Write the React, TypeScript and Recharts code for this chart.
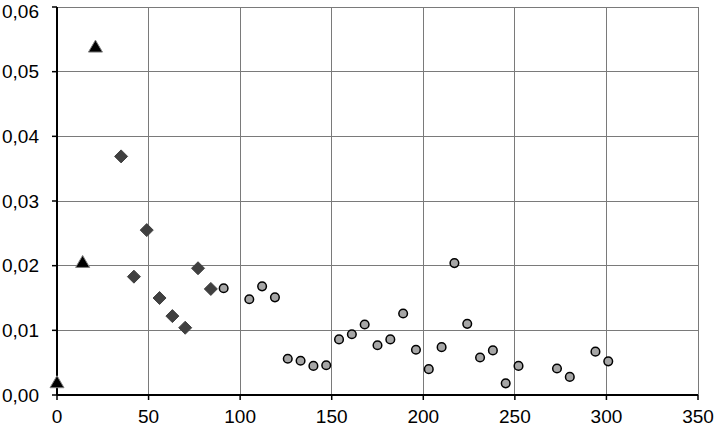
import { ScatterChart, Scatter, XAxis, YAxis, CartesianGrid } from "recharts";

const triangleX = [0, 14, 21];
const triangleY = [0.0019, 0.0205, 0.0538];

const diamondX = [35, 42, 49, 56, 63, 70, 77, 84];
const diamondY = [0.0369, 0.0183, 0.0255, 0.015, 0.0122, 0.0104, 0.0196, 0.0164];

const circleX = [
  91, 105, 112, 119, 126, 133, 140, 147, 154, 161, 168, 175, 182, 189, 196, 203,
  210, 217, 224, 231, 238, 245, 252, 273, 280, 294, 301,
];
const circleY = [
  0.0165, 0.0148, 0.0168, 0.0151, 0.0056, 0.0053, 0.0045, 0.0046, 0.0086, 0.0094,
  0.0109, 0.0077, 0.0086, 0.0126, 0.007, 0.004, 0.0074, 0.0204, 0.011, 0.0058,
  0.0069, 0.0018, 0.0045, 0.0041, 0.0028, 0.0067, 0.0052,
];

const xTicks = [0, 50, 100, 150, 200, 250, 300, 350];
const yTicks = [0, 0.01, 0.02, 0.03, 0.04, 0.05, 0.06];

const toPoints = (xs: number[], ys: number[]) => xs.map((x, i) => ({ x, y: ys[i] }));

const triangleData = toPoints(triangleX, triangleY);
const diamondData = toPoints(diamondX, diamondY);
const circleData = toPoints(circleX, circleY);

const FONT = "'Liberation Sans', Arial, sans-serif";

const Triangle = (props: any) => {
  const { cx, cy } = props;
  return (
    <polygon
      points={`${cx},${cy - 7} ${cx - 7},${cy + 5} ${cx + 7},${cy + 5}`}
      fill="#000000"
      stroke="#808080"
      strokeWidth={1}
    />
  );
};

const Diamond = (props: any) => {
  const { cx, cy } = props;
  return (
    <polygon
      points={`${cx},${cy - 6.5} ${cx + 6.5},${cy} ${cx},${cy + 6.5} ${cx - 6.5},${cy}`}
      fill="#404040"
      stroke="#404040"
      strokeWidth={1}
    />
  );
};

const Circle = (props: any) => {
  const { cx, cy } = props;
  return <circle cx={cx} cy={cy} r={4.3} fill="#a6a6a6" stroke="#000000" strokeWidth={1.5} />;
};

// y tick label; the top one is nudged down so it stays inside the picture
const YTick = (props: any) => {
  const { x, y, payload } = props;
  const nudge = payload.value === 0.06 ? 4 : 0;
  return (
    <text x={x} y={y + nudge} dy="0.355em" textAnchor="end" fill="#000000" fontSize={19} fontFamily={FONT}>
      {payload.value.toFixed(2).replace(".", ",")}
    </text>
  );
};

const tickStyle = { fill: "#000000", fontSize: 19, fontFamily: FONT };

export default function App() {
  return (
    <div style={{ position: "absolute", left: 0, top: 0, width: 714, height: 428, background: "#fff" }}>
      <ScatterChart width={714} height={428} margin={{ top: 7, right: 16, bottom: 0, left: 0 }}>
        <CartesianGrid stroke="#7a7a7a" strokeWidth={1} shapeRendering="crispEdges" />
        <XAxis
          type="number"
          dataKey="x"
          domain={[0, 350]}
          ticks={xTicks}
          interval={0}
          height={33}
          tick={tickStyle}
          tickSize={5}
          tickMargin={10}
          axisLine={{ stroke: "#000000", strokeWidth: 2 }}
          tickLine={{ stroke: "#000000", strokeWidth: 1.5 }}
        />
        <YAxis
          type="number"
          dataKey="y"
          domain={[0, 0.06]}
          ticks={yTicks}
          interval={0}
          width={57}
          tick={<YTick />}
          tickSize={5}
          tickMargin={13}
          axisLine={{ stroke: "#000000", strokeWidth: 2 }}
          tickLine={{ stroke: "#000000", strokeWidth: 1.5 }}
        />
        <Scatter data={circleData} shape={Circle} isAnimationActive={false} />
        <Scatter data={diamondData} shape={Diamond} isAnimationActive={false} />
        <Scatter data={triangleData} shape={Triangle} isAnimationActive={false} />
      </ScatterChart>
    </div>
  );
}
